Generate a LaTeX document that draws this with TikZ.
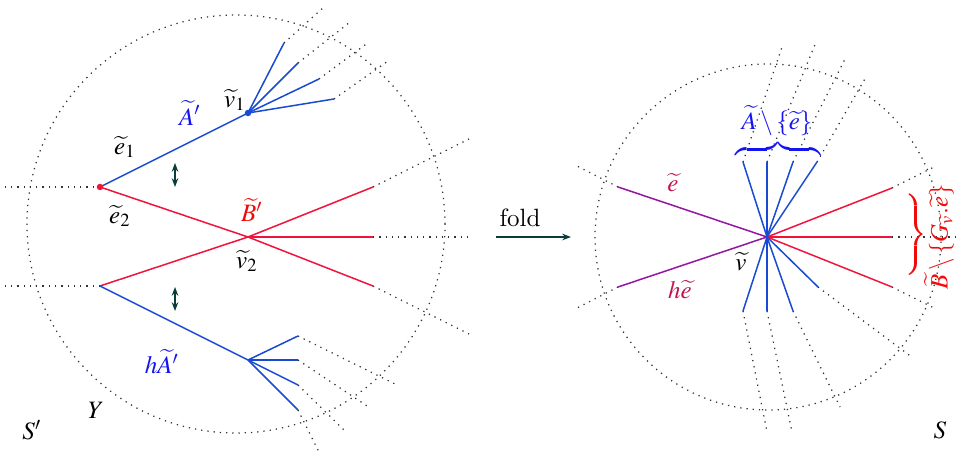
\documentclass[tikz,border=0pt]{standalone}
\usepackage{mathptmx}
\usetikzlibrary{arrows.meta}
\definecolor{lineblue}{RGB}{25,75,210}
\definecolor{linered}{RGB}{240,20,60}
\definecolor{labblue}{RGB}{20,20,240}
\definecolor{labred}{RGB}{240,10,10}
\definecolor{linepurp}{RGB}{150,20,165}
\definecolor{crim}{RGB}{190,20,80}
\definecolor{darkteal}{RGB}{10,60,60}
\begin{document}
\begin{tikzpicture}[x=0.4pt,y=-0.4pt,
  dotl/.style={dotted, line width=0.5pt, black!80},
  bl/.style={lineblue, line width=0.6pt},
  rl/.style={linered, line width=0.6pt},
  pl/.style={linepurp, line width=0.6pt},
  lab/.style={inner sep=1pt},
  dblarr/.style={darkteal, line width=0.6pt, {Stealth[length=3.5pt]}-{Stealth[length=3.5pt]}},
  bracenode/.style={inner sep=0pt, anchor=south}]
\useasboundingbox (0,0) rectangle (958,457);
% ---------- left picture ----------
\coordinate (cL) at (236,224);
\draw[dotl] (cL) circle[radius=83.6pt];
\coordinate (e) at (100,187);
\coordinate (v1) at (248,113);
\coordinate (a1) at (284,43);
\coordinate (a2) at (298,63);
\coordinate (a3) at (319,79);
\coordinate (a4) at (334,99);
\coordinate (a1o) at (324,7);
\coordinate (a2o) at (350,22);
\coordinate (a3o) at (369,42);
\coordinate (a4o) at (388,61);
\coordinate (v2) at (248,237);
\coordinate (f) at (100,286);
\coordinate (b1) at (373,187);
\coordinate (b2) at (373,237);
\coordinate (b3) at (373,286);
\coordinate (b1o) at (469,139);
\coordinate (b2o) at (473,237);
\coordinate (b3o) at (469,334);
\coordinate (eo) at (5,187);
\coordinate (fo) at (5,286);
\coordinate (v3) at (248,360);
\coordinate (c1) at (298,336);
\coordinate (c2) at (298,360);
\coordinate (c3) at (298,385);
\coordinate (c4) at (298,410);
\coordinate (c1o) at (395,384);
\coordinate (c2o) at (370,408);
\coordinate (c3o) at (346,432);
\coordinate (c4o) at (320,454);

\draw[dotl] (e) -- (eo);
\draw[dotl] (f) -- (fo);
\foreach \p in {a1,a2,a3,a4,b1,b2,b3,c1,c2,c3,c4} \draw[dotl] (\p) -- (\p o);
\draw[bl] (e) -- (v1);
\foreach \p in {a1,a2,a3,a4} \draw[bl] (v1) -- (\p);
\draw[rl] (e) -- (v2) -- (f);
\foreach \p in {b1,b2,b3} \draw[rl] (v2) -- (\p);
\draw[bl] (f) -- (v3);
\foreach \p in {c1,c2,c3,c4} \draw[bl] (v3) -- (\p);
\fill[linered] (e) circle[radius=1.3pt];
\fill[lineblue] (v1) circle[radius=1.3pt];

\coordinate (ar1t) at (175,163);
\coordinate (ar1b) at (175,187);
\coordinate (ar2t) at (175,287);
\coordinate (ar2b) at (175,311);
\draw[dblarr] (ar1t) -- (ar1b);
\draw[dblarr] (ar2t) -- (ar2b);

\node[lab, text=labblue] (lA) at (190,113) {$\widetilde{A}'$};
\node[lab] (lv1) at (235,100) {$\widetilde{v}_1$};
\node[lab] (le1) at (125,147) {$\widetilde{e}_1$};
\node[lab] (le2) at (120,216) {$\widetilde{e}_2$};
\node[lab, text=labred] (lB) at (252,210) {$\widetilde{B}'$};
\node[lab] (lv2) at (247,261) {$\widetilde{v}_2$};
\node[lab, text=labblue] (lhA) at (162,362) {$h\widetilde{A}'$};
\node[lab] (lY) at (96,410) {$Y$};
\node[lab] (lSp) at (32,430) {$S'$};

% ---------- fold arrow ----------
\node[lab] (lfold) at (520,218) {fold};
\coordinate (fa) at (496,237);
\coordinate (fb) at (571,237);
\draw[darkteal, line width=0.6pt, -{Stealth[length=3.5pt]}] (fa) -- (fb);

% ---------- right picture ----------
\coordinate (v) at (767,237);
\draw[dotl] (768,237) circle[radius=69.2pt];
\coordinate (p1) at (618,187);
\coordinate (p2) at (618,287);
\coordinate (p1o) at (575,165);
\coordinate (p2o) at (575,309);
\coordinate (r1) at (892,188);
\coordinate (r2) at (892,237);
\coordinate (r3) at (892,287);
\coordinate (r1o) at (936,166);
\coordinate (r2o) at (958,237);
\coordinate (r3o) at (936,309);
\coordinate (u1) at (743,162);
\coordinate (u2) at (767,162);
\coordinate (u3) at (793,162);
\coordinate (u4) at (817,162);
\coordinate (u1o) at (782,47);
\coordinate (u2o) at (816,42);
\coordinate (u3o) at (846,57);
\coordinate (u4o) at (866,77);
\coordinate (d1) at (743,311);
\coordinate (d2) at (767,311);
\coordinate (d3) at (793,311);
\coordinate (d4) at (818,287);
\coordinate (d1o) at (767,432);
\coordinate (d2o) at (792,432);
\coordinate (d3o) at (840,407);
\coordinate (d4o) at (913,358);

\foreach \p in {p1,p2,r1,r2,r3,u1,u2,u3,u4,d1,d2,d3,d4} \draw[dotl] (\p) -- (\p o);
\foreach \p in {p1,p2} \draw[pl] (v) -- (\p);
\foreach \p in {r1,r2,r3} \draw[rl] (v) -- (\p);
\foreach \p in {u1,u2,u3,u4,d1,d2,d3,d4} \draw[bl] (v) -- (\p);

\node[bracenode, text=labblue] (brA) at (778,159) {$\overbrace{\hbox to 34pt{}}$};
\node[lab, text=labblue] (lAe) at (777,121) {$\widetilde{A}\setminus\{\widetilde{e}\}$};
\node[bracenode, text=labred, rotate=-90] (brB) at (906,235) {$\overbrace{\hbox to 32pt{}}$};
\node[lab, text=labred, rotate=90] (lBe) at (939,237) {$\widetilde{B}\setminus\{G_{\widetilde{v}}.\widetilde{e}\}$};

\node[lab, text=crim] (le) at (673,183) {$\widetilde{e}$};
\node[lab, text=crim] (lhe) at (680,290) {$h\widetilde{e}$};
\node[lab] (lv) at (741,262) {$\widetilde{v}$};
\node[lab] (lS) at (940,430) {$S$};
\end{tikzpicture}
\end{document}
